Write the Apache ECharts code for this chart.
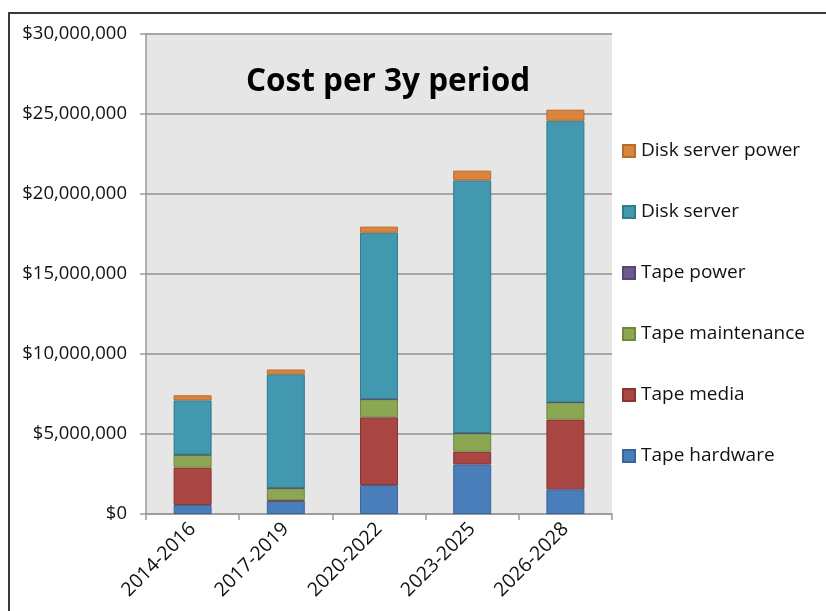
<!DOCTYPE html>
<html>
<head>
<meta charset="utf-8">
<title>Cost per 3y period</title>
<script src="https://cdn.jsdelivr.net/npm/echarts@6/dist/echarts.min.js"></script>
<style>
    html, body { margin: 0; padding: 0; background: #fff; }
    #cost_chart { width: 826px; height: 611px; }
</style>
</head>
<body>
<div id="cost_chart"></div>
<script>

// Chart data
// ------------------------------

var periods = ['2014-2016', '2017-2019', '2020-2022', '2023-2025', '2026-2028'];

var tapeHardware    = [560000, 810000, 1810000, 3100000, 1540000];
var tapeMedia       = [2340000, 50000, 4230000, 800000, 4360000];
var tapeMaintenance = [790000, 750000, 1130000, 1140000, 1060000];
var tapePower       = [20000, 20000, 20000, 20000, 20000];
var diskServer      = [3390000, 7100000, 10390000, 15790000, 17600000];
var diskServerPower = [320000, 300000, 380000, 610000, 690000];

var yTicks = [0, 5000000, 10000000, 15000000, 20000000, 25000000, 30000000];


// Setup chart
// ------------------------------

var chart_element = document.getElementById('cost_chart');
var cost_chart = echarts.init(chart_element, null, { renderer: 'canvas' });

var fontFamily = '"Open Sans", "DejaVu Sans", sans-serif';

// Series definitions: name, values, fill, border
var seriesDefs = [
    ['Tape hardware', tapeHardware, '#4A7EBB', '#3A659A'],
    ['Tape media', tapeMedia, '#A94543', '#8A3533'],
    ['Tape maintenance', tapeMaintenance, '#8BA752', '#6F8740'],
    ['Tape power', tapePower, '#71588F', '#5A4573'],
    ['Disk server', diskServer, '#4198AF', '#2F7B8F'],
    ['Disk server power', diskServerPower, '#DB843D', '#B86C2E']
];

var formatDollars = function(v) {
    return '$' + String(v).replace(/\B(?=(\d{3})+(?!\d))/g, ',');
};

var series = seriesDefs.map(function(d) {
    return {
        name: d[0],
        type: 'bar',
        stack: 'cost',
        data: d[1],
        barWidth: 38,
        itemStyle: {
            color: d[2],
            borderColor: d[3],
            borderWidth: 1
        }
    };
});

cost_chart.setOption({
    animation: false,

    textStyle: {
        fontFamily: fontFamily,
        color: '#111'
    },

    // Outer frame
    graphic: [{
        type: 'rect',
        shape: { x: 9, y: 13, width: 900, height: 700 },
        style: { fill: 'none', stroke: '#3a3a3a', lineWidth: 2 },
        silent: true
    }],

    title: {
        text: 'Cost per 3y period',
        left: 383,
        top: 61,
        textAlign: 'center',
        textStyle: {
            fontFamily: fontFamily,
            fontSize: 31.5,
            fontWeight: 'bold',
            color: '#000'
        }
    },

    legend: {
        orient: 'vertical',
        left: 622,
        top: 141,
        padding: 0,
        itemWidth: 12,
        itemHeight: 12,
        itemGap: 41,
        selectedMode: false,
        icon: 'rect',
        data: seriesDefs.map(function(d) { return d[0]; }).reverse(),
        textStyle: {
            fontFamily: fontFamily,
            fontSize: 19,
            lineHeight: 20,
            color: '#111',
            padding: [0, 0, 0, 1]
        }
    },

    grid: {
        left: 146,
        top: 34,
        width: 466,
        height: 480,
        show: true,
        backgroundColor: '#E6E6E6',
        borderWidth: 0
    },

    xAxis: {
        type: 'category',
        data: periods,
        axisLine: { lineStyle: { color: '#9a9a9a', width: 1.5 } },
        axisTick: { show: true, length: 6, lineStyle: { color: '#9a9a9a', width: 1.5 } },
        axisLabel: {
            rotate: 45,
            fontSize: 19.5,
            color: '#111',
            margin: 12,
            fontFamily: fontFamily
        }
    },

    yAxis: {
        type: 'value',
        min: yTicks[0],
        max: yTicks[yTicks.length - 1],
        interval: yTicks[1] - yTicks[0],
        axisLine: { show: true, lineStyle: { color: '#9a9a9a', width: 1.5 } },
        axisTick: { show: true, length: 6, lineStyle: { color: '#9a9a9a', width: 1.5 } },
        splitLine: { show: true, lineStyle: { color: '#A6A6A6', width: 2 } },
        axisLabel: {
            fontSize: 18.5,
            color: '#111',
            margin: 19,
            fontFamily: fontFamily,
            formatter: formatDollars
        }
    },

    series: series
});


// Resize chart
// ------------------------------

window.addEventListener('resize', function() {
    cost_chart.resize();
});

</script>
</body>
</html>
